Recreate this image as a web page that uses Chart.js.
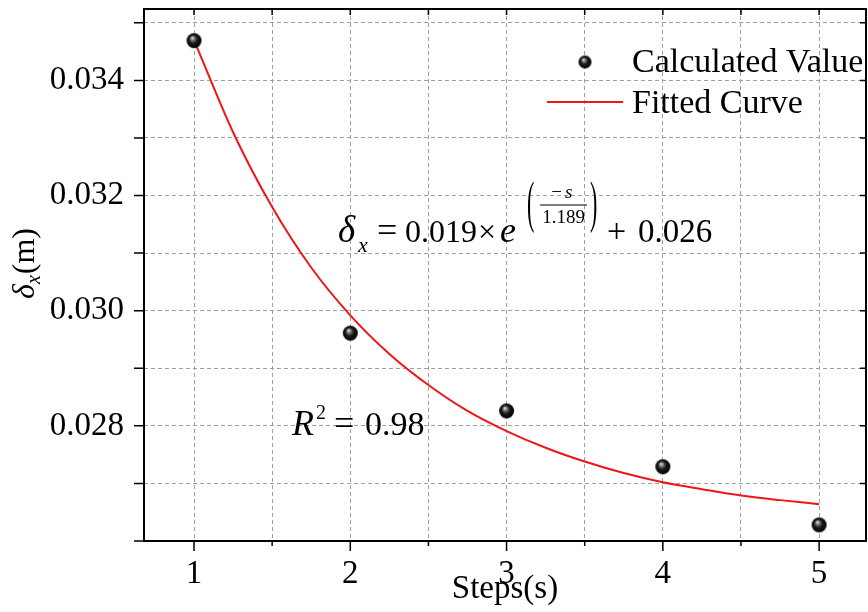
<!DOCTYPE html>
<html>
<head>
<meta charset="utf-8">
<script src="https://cdn.jsdelivr.net/npm/chart.js@4.4.0/dist/chart.umd.min.js"></script>
<style>
  body { margin: 0; background: #fff; }
  #wrap { width: 868px; height: 612px; }
</style>
</head>
<body>
<div id="wrap"><canvas id="fitChart" width="868" height="612"></canvas></div>
<script>
// values
const steps = [1, 2, 3, 4, 5];
const calculated = [0.03469, 0.02961, 0.02826, 0.02729, 0.02628];

const fitSteps = [1, 1.25, 1.5, 1.75, 2, 2.25, 2.5, 2.75, 3, 3.25, 3.5, 3.75, 4, 4.25, 4.5, 4.75, 5];
const fitted = [0.0347, 0.0331, 0.0318, 0.03075, 0.02992, 0.02925, 0.02871, 0.02826, 0.02791, 0.02762, 0.02738, 0.02718, 0.02702, 0.0269, 0.02679, 0.02671, 0.02664];

const xTickValues = [1, 1.5, 2, 2.5, 3, 3.5, 4, 4.5, 5];
const yTickValues = [0.026, 0.027, 0.028, 0.029, 0.030, 0.031, 0.032, 0.033, 0.034, 0.035];

const serif = "'Liberation Serif', 'Times New Roman', serif";
const red = 'rgb(238, 22, 22)';

function makeSphere(r) {
  const c = document.createElement('canvas');
  c.width = c.height = 2 * r + 2;
  const g = c.getContext('2d');
  const m = r + 1;
  const grad = g.createRadialGradient(m - r * 0.25, m - r * 0.4, 0, m, m, r);
  grad.addColorStop(0, '#ffffff');
  grad.addColorStop(0.22, '#8a8a8a');
  grad.addColorStop(0.55, '#1a1a1a');
  grad.addColorStop(1, '#000000');
  g.fillStyle = grad;
  g.beginPath();
  g.arc(m, m, r, 0, Math.PI * 2);
  g.fill();
  return c;
}
const ball = makeSphere(7.5);
const smallBall = makeSphere(6.5);

function put(ctx, s, x, y, size, italic, align) {
  ctx.font = (italic ? 'italic ' : '') + size + 'px ' + serif;
  ctx.textAlign = align || 'left';
  ctx.textBaseline = 'alphabetic';
  ctx.fillStyle = '#000';
  ctx.fillText(s, x, y);
}

const decor = {
  id: 'decor',
  afterDraw(chart) {
    const { ctx, chartArea: a, scales: { x, y } } = chart;
    ctx.save();

    // frame and ticks
    ctx.strokeStyle = '#000';
    ctx.lineWidth = 2;
    ctx.strokeRect(a.left, a.top, a.right - a.left, a.bottom - a.top);
    ctx.lineWidth = 1.5;
    ctx.beginPath();
    xTickValues.forEach(v => {
      const px = x.getPixelForValue(v);
      ctx.moveTo(px, a.bottom);
      ctx.lineTo(px, a.bottom + (Number.isInteger(v) ? 10 : 5));
      ctx.moveTo(px, a.top);
      ctx.lineTo(px, a.top + 6);
    });
    yTickValues.forEach(v => {
      const py = y.getPixelForValue(v);
      ctx.moveTo(a.left, py);
      ctx.lineTo(a.left - 10, py);
      ctx.moveTo(a.right, py);
      ctx.lineTo(a.right - 6, py);
    });
    ctx.stroke();

    // y title
    ctx.save();
    ctx.translate(34, 264);
    ctx.rotate(-Math.PI / 2);
    ctx.font = 'italic 32px ' + serif;
    const wd = ctx.measureText('δ').width;
    ctx.font = 'italic 20px ' + serif;
    const wx = ctx.measureText('x').width;
    ctx.font = '32px ' + serif;
    const wm = ctx.measureText('(m)').width;
    const sx = -(wd + wx + wm) / 2;
    put(ctx, 'δ', sx, 0, 32, true);
    put(ctx, 'x', sx + wd, 6, 20, true);
    put(ctx, '(m)', sx + wd + wx + 1, 0, 32, false);
    ctx.restore();

    // legend
    ctx.drawImage(smallBall, 585 - smallBall.width / 2, 62 - smallBall.height / 2);
    put(ctx, 'Calculated Value', 632, 72, 34, false);
    ctx.strokeStyle = red;
    ctx.lineWidth = 2;
    ctx.beginPath();
    ctx.moveTo(547, 102);
    ctx.lineTo(623, 102);
    ctx.stroke();
    put(ctx, 'Fitted Curve', 632, 113, 34, false);

    // equation
    put(ctx, 'δ', 338, 242, 37, true);
    put(ctx, 'x', 358, 252, 22, true);
    put(ctx, '=', 377, 242, 36, false);
    put(ctx, '0.019', 405, 242, 32, false);
    put(ctx, '×', 478, 242, 32, false);
    put(ctx, 'e', 500, 242, 36, true);
    ctx.save();
    ctx.translate(527, 221);
    ctx.scale(1, 2.6);
    put(ctx, '(', 0, 0, 22, false);
    ctx.restore();
    ctx.save();
    ctx.translate(590, 221);
    ctx.scale(1, 2.6);
    put(ctx, ')', 0, 0, 22, false);
    ctx.restore();
    put(ctx, '−', 562, 198, 19, false, 'right');
    put(ctx, 's', 565, 198, 19, true);
    ctx.fillRect(540, 204.5, 47, 1);
    put(ctx, '1.189', 563.5, 223, 19, false, 'center');
    put(ctx, '+', 607, 242, 34, false);
    put(ctx, '0.026', 638, 242, 33, false);

    // R^2
    put(ctx, 'R', 292, 435, 36, true);
    put(ctx, '2', 316, 419, 20, false);
    put(ctx, '=', 334, 435, 36, false);
    put(ctx, '0.98', 365, 435, 34, false);

    ctx.restore();
  }
};

const gridStyle = { color: '#a0a0a0', lineWidth: 1, drawTicks: false };
const tickFont = { family: serif, size: 33 };

new Chart(document.getElementById('fitChart').getContext('2d'), {
  type: 'scatter',
  data: {
    datasets: [{
      label: 'Calculated Value',
      data: steps.map((s, i) => ({ x: s, y: calculated[i] })),
      pointStyle: ball,
      pointRadius: 7.5,
      order: 0
    }, {
      label: 'Fitted Curve',
      data: fitSteps.map((s, i) => ({ x: s, y: fitted[i] })),
      showLine: true,
      borderColor: red,
      borderWidth: 2,
      pointRadius: 0,
      cubicInterpolationMode: 'monotone',
      order: 1
    }]
  },
  options: {
    responsive: false,
    animation: false,
    events: [],
    layout: { autoPadding: false, padding: { top: 9, right: 2, left: 0, bottom: 0 } },
    scales: {
      x: {
        type: 'linear',
        min: 0.68,
        max: 5.3,
        afterBuildTicks: scale => { scale.ticks = xTickValues.map(v => ({ value: v })); },
        afterFit: scale => {
          scale.height = 71;
          scale.paddingLeft = 0;
          scale.paddingRight = 0;
        },
        grid: gridStyle,
        border: { display: false, dash: [4, 3] },
        ticks: {
          autoSkip: false,
          maxRotation: 0,
          padding: 14,
          color: '#000',
          font: tickFont,
          callback: v => Number.isInteger(v) ? String(v) : ''
        },
        title: {
          display: true,
          text: 'Steps(s)',
          color: '#000',
          font: { family: serif, size: 33 },
          padding: { top: 0, bottom: 3 }
        }
      },
      y: {
        type: 'linear',
        min: 0.026,
        max: 0.03524,
        afterBuildTicks: scale => { scale.ticks = yTickValues.map(v => ({ value: v })); },
        afterFit: scale => {
          scale.width = 144;
          scale.paddingTop = 0;
          scale.paddingBottom = 0;
        },
        grid: gridStyle,
        border: { display: false, dash: [4, 3] },
        ticks: {
          autoSkip: false,
          padding: 20,
          color: '#000',
          font: tickFont,
          callback: v => {
            const k = Math.round(v * 1000);
            return (k % 2 === 0 && k >= 28 && k <= 34) ? v.toFixed(3) : '';
          }
        }
      }
    },
    plugins: {
      legend: { display: false },
      tooltip: { enabled: false }
    }
  },
  plugins: [decor]
});
</script>
</body>
</html>
